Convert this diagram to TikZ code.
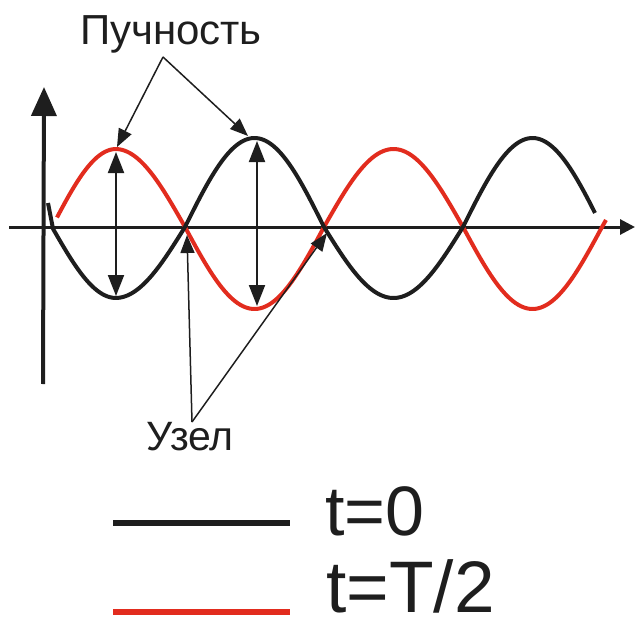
\documentclass[tikz,border=0pt]{standalone}
\usepackage{fontspec}
\setmainfont{Liberation Sans}
\usetikzlibrary{arrows.meta}
\definecolor{wblack}{RGB}{30,30,30}
\definecolor{wred}{RGB}{226,44,30}
\begin{document}
\begin{tikzpicture}[x=1pt,y=-1pt,
  declare function={
    th(\t)=(\t<116)?(-90-((116-\t)/64)*90):(((\t-185)/139)*180);
    bu(\t)=80*sin(th(\t))+9*abs(sin(th(\t)));
    ru(\t)=-80*sin(th(\t))-2*abs(sin(th(\t)));
  },
  lbl/.style={inner sep=0pt, text=wblack},
  ann/.style={draw=wblack, line width=1.5pt, -{Triangle[length=18pt,width=14pt]}},
  amp/.style={draw=wblack, line width=2pt, {Triangle[length=21pt,width=16pt]}-{Triangle[length=21pt,width=16pt]}},
  wave/.style={line width=4pt},
]
\useasboundingbox (0,0) rectangle (635,626);

% axes
\coordinate (xs) at (9,227);
\coordinate (xe) at (635,227);
\coordinate (ys) at (43,384);
\coordinate (ye) at (44,87);
\draw[wblack, line width=3pt, -{Triangle[length=15pt,width=15pt]}] (xs) -- (xe);
\draw[wblack, line width=4pt, -{Triangle[length=29pt,width=25pt]}] (ys) -- (ye);

% waves
\draw[wave, wred] plot[smooth, samples=220, domain=57:606] (\x,{227-ru(\x)});
\draw[wave, wblack] (48,203) -- plot[smooth, samples=220, domain=53:595] (\x,{227-bu(\x)});

% amplitude arrows
\coordinate (a1t) at (116,152);
\coordinate (a1b) at (116,296);
\coordinate (a2t) at (257,141);
\coordinate (a2b) at (257,306);
\draw[amp] (a1t) -- (a1b);
\draw[amp] (a2t) -- (a2b);

% labels
\node[lbl, anchor=base, font=\fontsize{42}{48}\selectfont] (puch) at (171,45) {Пучность};
\node[lbl, anchor=base, font=\fontsize{41}{48}\selectfont] (uzel) at (190,450) {Узел};

\coordinate (pap) at (163,57);
\coordinate (pk1) at (117,147);
\coordinate (pk2) at (248,136);
\draw[ann] (pap) -- (pk1);
\draw[ann] (pap) -- (pk2);

\coordinate (uap) at (192,422);
\coordinate (uz1) at (187,235);
\coordinate (uz2) at (327,233);
\draw[ann] (uap) -- (uz1);
\draw[ann] (uap) -- (uz2);

% legend
\coordinate (l1a) at (113,523);
\coordinate (l1b) at (290,523);
\coordinate (l2a) at (113,612);
\coordinate (l2b) at (290,612);
\draw[wblack, line width=6pt] (l1a) -- (l1b);
\draw[wred, line width=5.5pt] (l2a) -- (l2b);
\node[lbl, anchor=base west, font=\fontsize{70}{80}\selectfont] (t0) at (325,535) {t=0};
\node[lbl, anchor=base west, font=\fontsize{73}{84}\selectfont] (t1) at (326,612) {t=T/2};
\end{tikzpicture}
\end{document}
